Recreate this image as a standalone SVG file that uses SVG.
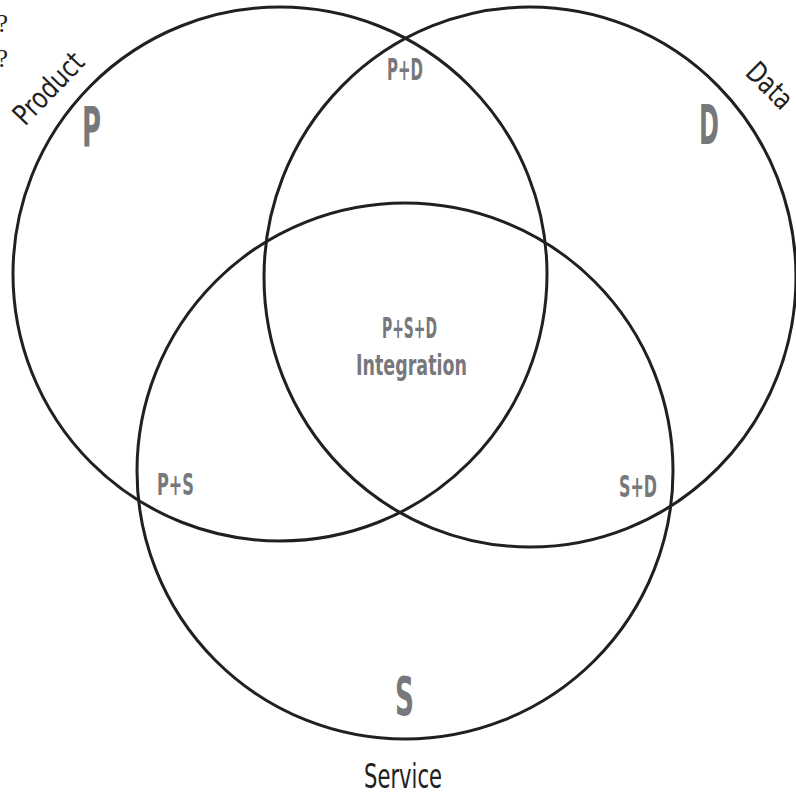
<svg xmlns="http://www.w3.org/2000/svg" width="796" height="792" viewBox="0 0 796 792">
  <style>
    .ring { fill: none; stroke: #231f20; stroke-width: 3; }
    .lbl { font-family: "Liberation Sans Narrow", "DejaVu Sans Condensed", sans-serif; font-weight: bold; fill: #77787b; }
    .name { font-family: "Liberation Sans Narrow", "DejaVu Sans Condensed", sans-serif; fill: #231f20; }
    .q { font-family: "Liberation Serif", serif; fill: #231f20; font-size: 26px; text-anchor: end; }
  </style>
  <rect width="796" height="792" fill="#ffffff"/>

  <text class="q" x="8" y="32">?</text>
  <text class="q" x="8" y="67">?</text>

  <g id="connectors"></g>

  <g id="product">
    <circle class="ring" cx="280" cy="274" r="267"/>
    <text class="lbl" x="82" y="146" font-size="56" textLength="19" lengthAdjust="spacingAndGlyphs">P</text>
    <text class="name" transform="translate(25 127) rotate(-46)" font-size="29" textLength="88" lengthAdjust="spacingAndGlyphs">Product</text>
  </g>

  <g id="data">
    <ellipse class="ring" cx="530" cy="277" rx="266" ry="270"/>
    <text class="lbl" x="699" y="144" font-size="56" textLength="20" lengthAdjust="spacingAndGlyphs">D</text>
    <text class="name" transform="translate(744 74) rotate(45)" font-size="29" textLength="53" lengthAdjust="spacingAndGlyphs">Data</text>
  </g>

  <g id="service">
    <circle class="ring" cx="405" cy="471" r="268"/>
    <text class="lbl" x="395" y="715" font-size="54" textLength="19" lengthAdjust="spacingAndGlyphs">S</text>
    <text class="name" x="364" y="788" font-size="34" textLength="78" lengthAdjust="spacingAndGlyphs">Service</text>
  </g>

  <g id="pd">
    <text class="lbl" x="387" y="80" font-size="31" textLength="36" lengthAdjust="spacingAndGlyphs">P+D</text>
  </g>
  <g id="ps">
    <text class="lbl" x="157" y="495" font-size="31" textLength="37" lengthAdjust="spacingAndGlyphs">P+S</text>
  </g>
  <g id="sd">
    <text class="lbl" x="619" y="497" font-size="31" textLength="38" lengthAdjust="spacingAndGlyphs">S+D</text>
  </g>
  <g id="psd">
    <text class="lbl" x="382" y="338" font-size="29" textLength="55" lengthAdjust="spacingAndGlyphs">P+S+D</text>
    <text class="lbl" x="356" y="375" font-size="28" textLength="111" lengthAdjust="spacingAndGlyphs">Integration</text>
  </g>
</svg>
